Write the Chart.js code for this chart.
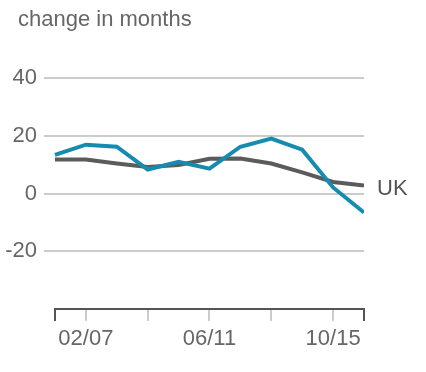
<!DOCTYPE html>
<html>
<head>
<meta charset="utf-8">
<script src="https://cdn.jsdelivr.net/npm/chart.js@4.4.1/dist/chart.umd.min.js"></script>
<style>
  html, body { margin: 0; padding: 0; background: #fff; }
  #wrap { width: 426px; height: 372px; position: relative; }
</style>
</head>
<body>
<div id="wrap"><canvas id="chart"></canvas></div>
<script>
// data, one point every 13 months from 01/06 to 11/16
const periods = [0, 1, 2, 3, 4, 5, 6, 7, 8, 9, 10];
const regionValues = [13.4, 16.9, 16.2, 8.3, 11.0, 8.6, 16.2, 19.0, 15.2, 2.1, -6.6];
const ukValues = [11.8, 11.8, 10.4, 9.2, 9.9, 12.0, 12.1, 10.4, 7.3, 4.0, 2.8];
const xTickPositions = [0, 1, 3, 5, 7, 9, 10];
const xTickLabels = { 1: '02/07', 5: '06/11', 9: '10/15' };
const yTicks = [-40, -20, 0, 20, 40];

const fontFamily = '"Liberation Sans", Arial, sans-serif';
const textGrey = '#666';
const axisDark = '#555';

function toPoints(vals) {
    return periods.map(function(p, i) { return { x: p, y: vals[i] }; });
}

// title, short x axis line and the "UK" end label
const extras = {
    id: 'extras',
    afterDraw: function(chart) {
        const ctx = chart.ctx;
        const xs = chart.scales.x;
        const y0 = chart.chartArea.bottom;
        ctx.save();
        ctx.fillStyle = textGrey;
        ctx.font = '22px ' + fontFamily;
        ctx.textBaseline = 'alphabetic';
        ctx.textAlign = 'left';
        ctx.fillText('change in months', 18, 26);

        ctx.strokeStyle = axisDark;
        ctx.lineWidth = 2;
        ctx.beginPath();
        ctx.moveTo(xs.getPixelForValue(periods[0]) - 1, y0);
        ctx.lineTo(xs.getPixelForValue(periods[periods.length - 1]) + 1, y0);
        ctx.stroke();

        const meta = chart.getDatasetMeta(1);
        const last = meta.data[meta.data.length - 1];
        ctx.fillStyle = axisDark;
        ctx.textBaseline = 'middle';
        ctx.fillText('UK', last.x + 13, last.y + 4);
        ctx.restore();
    }
};

const ctx = document.getElementById('chart').getContext('2d');
const myChart = new Chart(ctx, {
    type: 'line',
    data: {
        datasets: [{
            label: 'Region',
            data: toPoints(regionValues),
            borderColor: '#168bb0',
            borderWidth: 4,
            pointRadius: 0,
            tension: 0
        }, {
            label: 'UK',
            data: toPoints(ukValues),
            borderColor: '#5b5b5b',
            borderWidth: 4,
            pointRadius: 0,
            tension: 0
        }]
    },
    options: {
        responsive: true,
        maintainAspectRatio: false,
        animation: false,
        layout: {
            padding: { left: 0, right: 62, top: 78, bottom: 0 }
        },
        plugins: {
            legend: { display: false },
            tooltip: { enabled: false }
        },
        scales: {
            x: {
                type: 'linear',
                min: -0.355,
                max: 10,
                afterBuildTicks: function(scale) {
                    scale.ticks = xTickPositions.map(function(v) { return { value: v }; });
                },
                afterFit: function(scale) { scale.height = 63; },
                border: { display: false },
                grid: {
                    drawOnChartArea: false,
                    tickLength: 12,
                    lineWidth: 2,
                    color: function(c) {
                        const v = c.tick ? c.tick.value : null;
                        return (v === 0 || v === 10) ? axisDark : '#ccc';
                    }
                },
                ticks: {
                    autoSkip: false,
                    maxRotation: 0,
                    padding: 5,
                    color: textGrey,
                    font: { family: fontFamily, size: 22 },
                    callback: function(v) { return xTickLabels[v] || ''; }
                }
            },
            y: {
                min: -40,
                max: 40,
                afterBuildTicks: function(scale) {
                    scale.ticks = yTicks.map(function(v) { return { value: v }; });
                },
                afterFit: function(scale) { scale.width = 44; },
                border: { display: false },
                grid: {
                    drawTicks: false,
                    lineWidth: 2,
                    color: function(c) {
                        return (c.tick && c.tick.value === -40) ? 'rgba(0,0,0,0)' : '#ccc';
                    }
                },
                ticks: {
                    padding: 7,
                    color: textGrey,
                    font: { family: fontFamily, size: 22 },
                    callback: function(v) { return v === -40 ? '' : v; }
                }
            }
        }
    },
    plugins: [extras]
});
</script>
</body>
</html>
